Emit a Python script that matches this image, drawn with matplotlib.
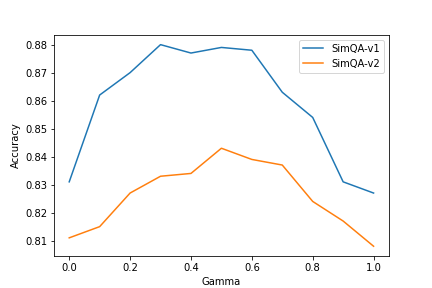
import matplotlib
matplotlib.use("Agg")
import matplotlib.pyplot as plt

gamma = [0.0, 0.1, 0.2, 0.3, 0.4, 0.5, 0.6, 0.7, 0.8, 0.9, 1.0]
simqa_v1 = [0.831, 0.862, 0.870, 0.880, 0.877, 0.879, 0.878, 0.863, 0.854, 0.831, 0.827]
simqa_v2 = [0.811, 0.815, 0.827, 0.833, 0.834, 0.843, 0.839, 0.837, 0.824, 0.817, 0.808]

fig, ax = plt.subplots(figsize=(6, 4), dpi=72)
ax.plot(gamma, simqa_v1, label="SimQA-v1")
ax.plot(gamma, simqa_v2, label="SimQA-v2")
ax.set_xlabel("Gamma")
ax.set_ylabel("Accuracy")
ax.legend(loc="upper right")
fig.savefig("out.png", dpi=72)
